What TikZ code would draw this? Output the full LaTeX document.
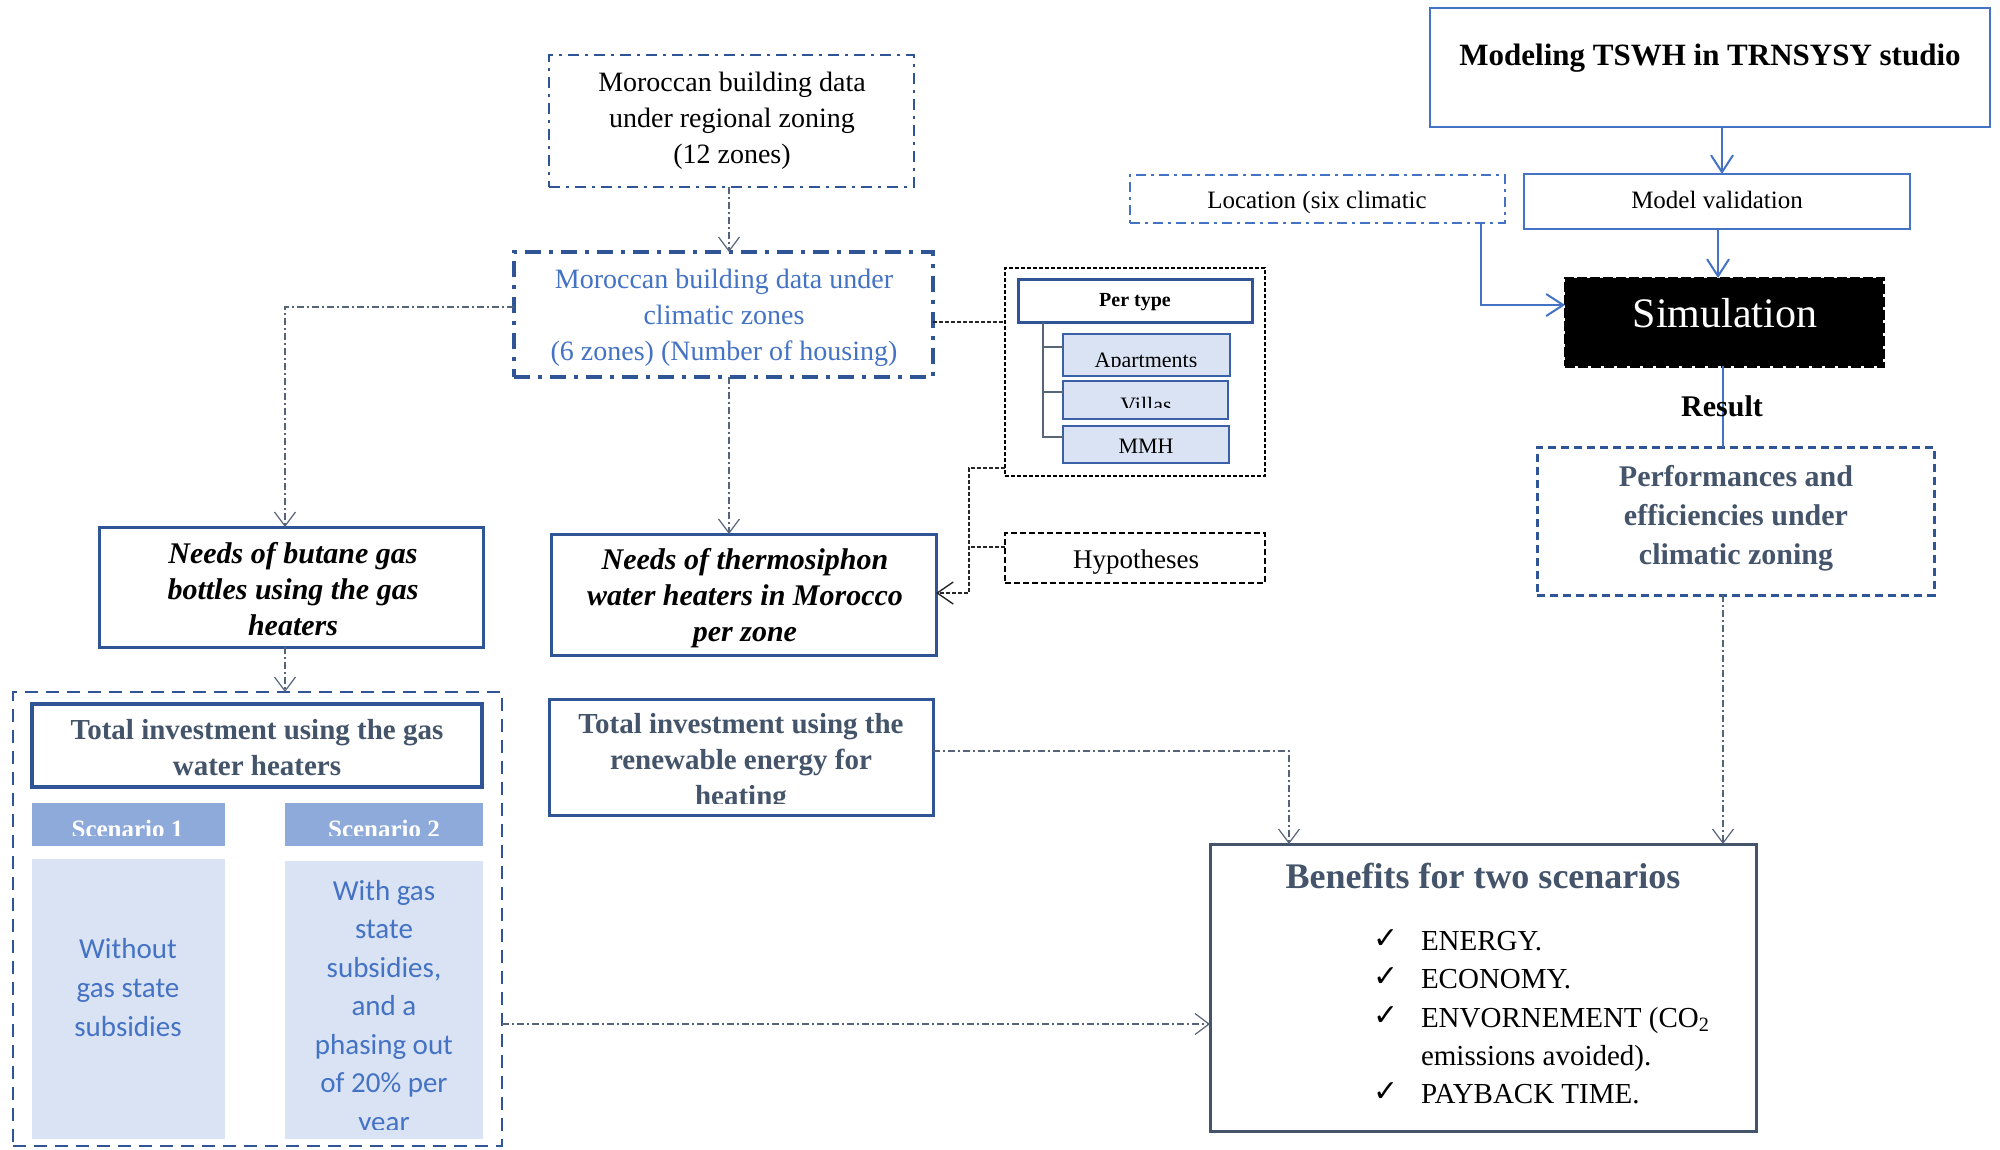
\documentclass[tikz,border=0pt]{standalone}
\usepackage{fontspec}
\setmainfont{Liberation Serif}
\newfontfamily\calib{Carlito}
\newfontfamily\djv{DejaVu Sans}
\usetikzlibrary{arrows.meta,calc}
\definecolor{dblue}{HTML}{2F5597}
\definecolor{mblue}{HTML}{4472C4}
\definecolor{slate}{HTML}{44546A}
\definecolor{hdrfill}{HTML}{8EAADB}
\definecolor{lfill}{HTML}{DAE3F3}
\definecolor{conn}{HTML}{56647A}
\newcommand\fsz[2]{\fontsize{#1}{#2}\selectfont}
\begin{document}
\begin{tikzpicture}[x=1pt,y=-1pt,
  every node/.style={inner sep=0pt,outer sep=0pt},
  sz/.style 2 args={rectangle,minimum width=#1pt,minimum height=#2pt},
  solidbox/.style={draw=dblue,line width=3pt},
  conn/.style={draw=conn,line width=1.2pt,dash pattern=on 7pt off 3pt on 2pt off 3pt},
  arr/.style={-{Straight Barb[length=14pt,width=21pt,line width=1.2pt]}},
  grp/.style={draw=black!85,line width=1.4pt,dash pattern=on 4pt off 2pt},
  arrblack/.style={-{Straight Barb[length=16pt,width=22pt,line width=1.4pt]}},
  bl/.style={draw=mblue,line width=2.5pt},
  arrb/.style={-{Straight Barb[length=17pt,width=22pt,line width=2pt]}},
  tree/.style={draw=slate!90,line width=2pt},
  item/.style={anchor=base west,font=\fsz{29}{38}},
  chk/.style={anchor=base,font=\djv\fsz{30}{34}}
]
\useasboundingbox (0,0) rectangle (2000,1149);
\fill[white] (0,0) rectangle (2000,1149);

% ---------- boxes ----------
\node[sz={365}{132},draw=dblue,line width=2.4pt,dash pattern=on 11pt off 6pt on 3pt off 6pt] (box1) at (731.5,121) {};
\node[sz={419}{125},draw=dblue,line width=4pt,dash pattern=on 16pt off 8pt on 4pt off 8pt] (box2) at (723.5,314.5) {};
\node[sz={384}{120},solidbox] (butane) at (291,587) {};
\node[sz={385}{121},solidbox] (thermo) at (743.5,594.5) {};
\node[sz={384}{116},solidbox] (renew) at (741,757) {};
\node[sz={489}{454},draw=dblue,line width=2.5pt,dash pattern=on 13pt off 8pt] (bigbox) at (257.5,919) {};
\node[sz={450}{83},draw=dblue,line width=3.5pt] (gastot) at (257,745.5) {};
\node[sz={193}{43},fill=hdrfill] (sc1h) at (128.5,824.5) {};
\node[sz={198}{43},fill=hdrfill] (sc2h) at (384,824.5) {};
\node[sz={193}{280},fill=lfill] (sc1b) at (128.5,999) {};
\node[sz={198}{278},fill=lfill] (sc2b) at (384,1000) {};
\node[sz={260}{208},draw=black,line width=1.3pt,dash pattern=on 4pt off 2pt] (group) at (1135,372) {};
\node[sz={234}{43},draw=dblue,line width=3pt] (pertype) at (1135,300.5) {};
\node[sz={167}{42},fill=lfill,draw=mblue!85!black,line width=1.5pt] (apt) at (1146.5,355) {};
\node[sz={165}{38},fill=lfill,draw=mblue!85!black,line width=1.5pt] (villas) at (1145.5,400) {};
\node[sz={166}{37},fill=lfill,draw=mblue!85!black,line width=1.5pt] (mmh) at (1146,444.5) {};
\node[sz={260}{50},draw=black,line width=2.2pt,dash pattern=on 6pt off 3pt] (hyp) at (1135,558) {};
\node[sz={560}{119},draw=mblue,line width=2.5pt] (model) at (1710,67.5) {};
\node[sz={386}{55},draw=mblue,line width=2pt] (mval) at (1717,201.5) {};
\node[sz={375}{48},draw=mblue,line width=2pt,dash pattern=on 10pt off 5pt on 3pt off 5pt] (loc) at (1317.5,199) {};
\node[sz={318}{88},fill=black,draw=black,line width=3pt,dash pattern=on 10pt off 3pt] (sim) at (1724,322) {};
\node[sz={397}{148},draw=dblue,line width=3pt,dash pattern=on 8pt off 5pt] (perf) at (1735.5,521) {};
\node[sz={546}{287},draw=slate,line width=3pt] (ben) at (1483,987.5) {};

% ---------- texts ----------
\node[align=center,font=\fsz{28}{36}] at (732,121) {Moroccan building data\\under regional zoning\\(12 zones)};
\node[align=center,font=\fsz{28}{36},text=mblue] at (724,318) {Moroccan building data under\\climatic zones\\(6 zones) (Number of housing)};
\node[align=center,font=\fsz{30}{36}\bfseries\itshape] at (293,589) {Needs of butane gas\\bottles using the gas\\heaters};
\node[align=center,font=\fsz{30}{36}\bfseries\itshape] at (745,598) {Needs of thermosiphon\\water heaters in Morocco\\per zone};
\node[align=center,font=\fsz{29}{36}\bfseries,text=slate] at (257,748) {Total investment using the gas\\water heaters};
\begin{scope}
  \clip (renew.north west) rectangle ([yshift=12pt]renew.south east);
  \node[anchor=north,align=center,font=\fsz{29}{36}\bfseries,text=slate] at (741,713) {Total investment using the\\renewable energy for\\heating};
\end{scope}
\begin{scope}
  \clip (sc1h.north west) rectangle ([yshift=11pt]sc1h.south east);
  \node[anchor=base,font=\fsz{25}{30}\bfseries,text=white] at (127.5,837) {Scenario 1};
\end{scope}
\begin{scope}
  \clip (sc2h.north west) rectangle ([yshift=11pt]sc2h.south east);
  \node[anchor=base,font=\fsz{25}{30}\bfseries,text=white] at (384,837) {Scenario 2};
\end{scope}
\node[align=center,font=\calib\fsz{29}{39},text=mblue] at (128,988) {Without\\gas state\\subsidies};
\begin{scope}
  \clip (sc2b.north west) rectangle ([yshift=10pt]sc2b.south east);
  \node[anchor=north,align=center,font=\calib\fsz{29}{38.5},text=mblue] at (384,880) {With gas\\state\\subsidies,\\and a\\phasing out\\of 20\% per\\year};
\end{scope}
\node[font=\fsz{20}{24}\bfseries] at (1135,302.5) {Per type};
\begin{scope}
  \clip (apt.north west) rectangle ([yshift=10pt]apt.south east);
  \node[anchor=base,font=\fsz{22}{26}] at (1146,367) {Apartments};
\end{scope}
\begin{scope}
  \clip (villas.north west) rectangle ([yshift=12pt]villas.south east);
  \node[anchor=base,font=\fsz{22}{26}] at (1146,412) {Villas};
\end{scope}
\node[anchor=base,font=\fsz{22}{26}] at (1146,453) {MMH};
\node[anchor=base,font=\fsz{27}{32}] at (1136,568) {Hypotheses};
\node[anchor=base,font=\fsz{31}{36}\bfseries] at (1710,65) {Modeling TSWH in TRNSYSY studio};
\node[anchor=base,font=\fsz{25}{30}] at (1717,208) {Model validation};
\node[anchor=base,font=\fsz{25}{30}] at (1317,208) {Location (six climatic};
\node[anchor=base,font=\fsz{42}{48},text=white] at (1725,327) {Simulation};
\node[align=center,font=\fsz{30}{39}\bfseries,text=slate] at (1736,518) {Performances and\\efficiencies under\\climatic zoning};
\node[anchor=base,font=\fsz{36}{40}\bfseries,text=slate] at (1483,888) {Benefits for two scenarios};
\node[chk] at (1386,948) {✓};
\node[chk] at (1386,986) {✓};
\node[chk] at (1386,1025) {✓};
\node[chk] at (1386,1101) {✓};
\node[item] at (1421,950) {ENERGY.};
\node[item] at (1421,988) {ECONOMY.};
\node[item] at (1421,1027) {ENVORNEMENT (CO\textsubscript{2}};
\node[item] at (1421,1065) {emissions avoided).};
\node[item] at (1421,1103) {PAYBACK TIME.};

% ---------- guides ----------
\coordinate (gA) at (729,0);
\coordinate (gB) at (285,307);
\coordinate (gD) at (0,322);
\coordinate (gE) at (969,468);
\coordinate (gF) at (0,593);
\coordinate (gG) at (0,547);
\coordinate (gH) at (0,1024);
\coordinate (gI) at (1289,751);
\coordinate (gJ) at (1723,0);
\coordinate (gK) at (1722,0);
\coordinate (gL) at (1718,0);
\coordinate (gM) at (1481,305);
\coordinate (gT) at (1043,0);
\coordinate (ta) at ([yshift=8pt]apt.west);
\coordinate (tv) at ([yshift=8pt]villas.west);
\coordinate (tm) at ([yshift=8pt]mmh.west);

% ---------- connectors ----------
\draw[conn,arr] (box1.south -| gA) -- (box2.north -| gA);
\draw[conn,arr] (box2.west |- gB) -| (butane.north -| gB);
\draw[conn,arr] (box2.south -| gA) -- (thermo.north -| gA);
\draw[grp] (box2.east |- gD) -- (group.west |- gD);
\draw[grp,arrblack] (group.west |- gE) -- (gE) |- (thermo.east |- gF);
\draw[grp] (hyp.west |- gG) -- (gE |- gG);
\draw[conn,arr] (butane.south -| gB) -- (bigbox.north -| gB);
\draw[conn,arr] (bigbox.east |- gH) -- (ben.west |- gH);
\draw[conn,arr] (renew.east |- gI) -| (ben.north -| gI);
\draw[conn,arr] (perf.south -| gJ) -- (ben.north -| gJ);
\draw[bl,arrb] (model.south -| gK) -- (mval.north -| gK);
\draw[bl,arrb] (mval.south -| gL) -- (sim.north -| gL);
\draw[draw=mblue,line width=1.6pt,arrb] (loc.south -| gM) -- (gM) -- (sim.west |- gM);
\draw[bl] (sim.south -| gJ) -- (perf.north -| gJ);
\draw[tree] (pertype.south -| gT) |- (tm);
\draw[tree] (ta -| gT) -- (ta);
\draw[tree] (tv -| gT) -- (tv);
\node[font=\fsz{30}{36}\bfseries] (result) at (1722,406) {Result};
\end{tikzpicture}
\end{document}
